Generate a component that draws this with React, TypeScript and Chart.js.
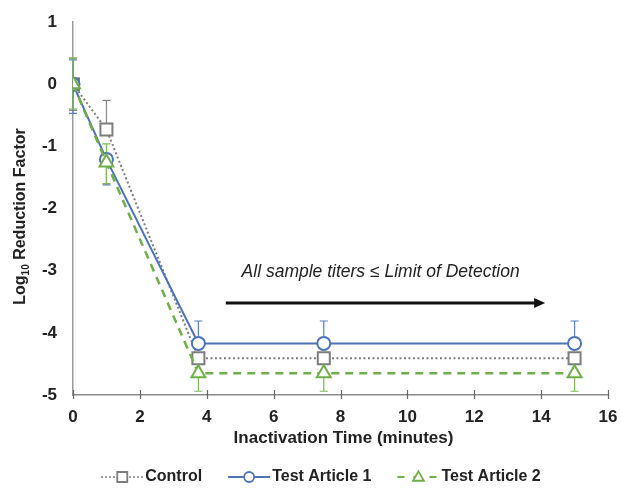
import React, { useEffect, useRef } from "react";
import { Chart, registerables } from "chart.js";

Chart.register(...registerables);

const times = [0, 1, 3.75, 7.5, 15];
const controlVals = [0, -0.73, -4.41, -4.41, -4.41];
const ta1Vals = [0, -1.21, -4.17, -4.17, -4.17];
const ta2Vals = [0, -1.26, -4.65, -4.65, -4.65];
const controlErrUp = [0.42, 0.47, 0, 0, 0];
const controlErrDown = [0.42, 0, 0, 0, 0];
const ta1ErrUp = [0.39, 0, 0.36, 0.36, 0.36];
const ta1ErrDown = [0.47, 0.41, 0, 0, 0];
const ta2ErrUp = [0.42, 0.3, 0, 0, 0];
const ta2ErrDown = [0.4, 0.34, 0.29, 0.29, 0.29];
const seriesNames = ["Control", "Test Article 1", "Test Article 2"];
const xTicks = [0, 2, 4, 6, 8, 10, 12, 14, 16];
const xTitle = "Inactivation Time (minutes)";
const annotationText = "All sample titers \u2264 Limit of Detection";
const arrowStart = 4.57;
const arrowEnd = 14.12;
const arrowY = -3.52;
const annotX = 9.2;
const annotY = -3.03;

const GRAY = "#7d7d7d";
const BLUE = "#4d72b8";
const GREEN = "#6fae49";
const FONT = "'Liberation Sans', Arial, sans-serif";

const errorSets = [
  { up: controlErrUp, down: controlErrDown, vals: controlVals, color: "#8a8a8a" },
  { up: ta1ErrUp, down: ta1ErrDown, vals: ta1Vals, color: "#5b7fc0" },
  { up: ta2ErrUp, down: ta2ErrDown, vals: ta2Vals, color: "#7db85a" },
];

const errorBarPlugin = {
  id: "errorBars",
  beforeDatasetsDraw(chart: any) {
    const { ctx, scales } = chart;
    const xs = scales.x;
    const ys = scales.y;
    ctx.save();
    ctx.lineWidth = 1.2;
    errorSets.forEach((s) => {
      ctx.strokeStyle = s.color;
      times.forEach((t, i) => {
        const px = xs.getPixelForValue(t);
        const py = ys.getPixelForValue(s.vals[i]);
        const draw = (val: number) => {
          const ey = ys.getPixelForValue(val);
          ctx.beginPath();
          ctx.moveTo(px, py);
          ctx.lineTo(px, ey);
          ctx.moveTo(px - 4, ey);
          ctx.lineTo(px + 4, ey);
          ctx.stroke();
        };
        if (s.up[i] > 0) draw(s.vals[i] + s.up[i]);
        if (s.down[i] > 0) draw(s.vals[i] - s.down[i]);
      });
    });
    ctx.restore();
  },
};

function drawMarker(ctx: any, style: string, x: number, y: number, r: number, color: string) {
  ctx.save();
  ctx.fillStyle = "#fff";
  ctx.strokeStyle = color;
  ctx.lineWidth = 1.8;
  ctx.setLineDash([]);
  ctx.beginPath();
  if (style === "rect") {
    ctx.rect(x - r, y - r, 2 * r, 2 * r);
  } else if (style === "circle") {
    ctx.arc(x, y, r, 0, Math.PI * 2);
  } else {
    const h = r * 1.7;
    ctx.moveTo(x, y - h * 0.6);
    ctx.lineTo(x + r, y + h * 0.4);
    ctx.lineTo(x - r, y + h * 0.4);
    ctx.closePath();
  }
  ctx.fill();
  ctx.stroke();
  ctx.restore();
}

const decorPlugin = {
  id: "decor",
  afterDraw(chart: any) {
    const { ctx, scales, chartArea } = chart;
    const xs = scales.x;
    const ys = scales.y;
    ctx.save();
    // x-axis tick marks crossing the axis
    ctx.strokeStyle = "#666";
    ctx.lineWidth = 1.2;
    xTicks.forEach((t) => {
      const px = Math.round(xs.getPixelForValue(t)) + 0.5;
      ctx.beginPath();
      ctx.moveTo(px, chartArea.bottom - 5);
      ctx.lineTo(px, chartArea.bottom + 4);
      ctx.stroke();
    });
    // arrow
    const ax0 = xs.getPixelForValue(arrowStart);
    const ax1 = xs.getPixelForValue(arrowEnd);
    const ay = ys.getPixelForValue(arrowY);
    ctx.strokeStyle = "#111";
    ctx.fillStyle = "#111";
    ctx.lineWidth = 3;
    ctx.beginPath();
    ctx.moveTo(ax0, ay);
    ctx.lineTo(ax1 - 8, ay);
    ctx.stroke();
    ctx.beginPath();
    ctx.moveTo(ax1, ay);
    ctx.lineTo(ax1 - 11, ay - 5);
    ctx.lineTo(ax1 - 11, ay + 5);
    ctx.closePath();
    ctx.fill();
    // annotation text
    ctx.font = `italic 17.5px ${FONT}`;
    ctx.fillStyle = "#222";
    ctx.textAlign = "center";
    ctx.textBaseline = "middle";
    ctx.fillText(annotationText, xs.getPixelForValue(annotX), ys.getPixelForValue(annotY));
    // x title
    ctx.font = `bold 17px ${FONT}`;
    ctx.fillText(xTitle, (chartArea.left + chartArea.right) / 2 + 3, chartArea.bottom + 43);
    // y title with subscript
    ctx.save();
    ctx.translate(21, (chartArea.top + chartArea.bottom) / 2 + 8);
    ctx.rotate(-Math.PI / 2);
    const p1 = "Log";
    const sub = "10";
    const p2 = " Reduction Factor";
    ctx.font = `bold 16px ${FONT}`;
    const w1 = ctx.measureText(p1).width;
    const w3 = ctx.measureText(p2).width;
    ctx.font = `bold 10px ${FONT}`;
    const w2 = ctx.measureText(sub).width;
    const total = w1 + w2 + w3;
    let cx = -total / 2;
    ctx.textAlign = "left";
    ctx.font = `bold 16px ${FONT}`;
    ctx.fillText(p1, cx, 0);
    cx += w1;
    ctx.font = `bold 10px ${FONT}`;
    ctx.fillText(sub, cx, 5);
    cx += w2;
    ctx.font = `bold 16px ${FONT}`;
    ctx.fillText(p2, cx, 0);
    ctx.restore();
    // legend
    const items = [
      { name: seriesNames[0], color: GRAY, dash: [1.5, 2.5], style: "rect", r: 5 },
      { name: seriesNames[1], color: BLUE, dash: [], style: "circle", r: 5 },
      { name: seriesNames[2], color: GREEN, dash: [7, 9], style: "triangle", r: 5.5 },
    ];
    ctx.font = `bold 16px ${FONT}`;
    const segW = 42;
    const gap = 2;
    const itemGap = 26;
    const widths = items.map((it) => segW + gap + ctx.measureText(it.name).width);
    const totalW = widths.reduce((a, b) => a + b, 0) + itemGap * (items.length - 1);
    let lx = 321 - totalW / 2;
    const ly = 477;
    items.forEach((it, i) => {
      ctx.save();
      ctx.strokeStyle = it.color;
      ctx.lineWidth = 1.8;
      ctx.setLineDash(it.dash);
      ctx.beginPath();
      ctx.moveTo(lx, ly);
      ctx.lineTo(lx + segW, ly);
      ctx.stroke();
      ctx.restore();
      drawMarker(ctx, it.style, lx + segW / 2, ly, it.r, it.color);
      ctx.fillStyle = "#222";
      ctx.textAlign = "left";
      ctx.textBaseline = "middle";
      ctx.font = `bold 16px ${FONT}`;
      ctx.fillText(it.name, lx + segW + gap, ly);
      lx += widths[i] + itemGap;
    });
    ctx.restore();
  },
};

export default function App() {
  const ref = useRef<HTMLCanvasElement | null>(null);
  useEffect(() => {
    if (!ref.current) return;
    const mk = (vals: number[]) => times.map((t, i) => ({ x: t, y: vals[i] }));
    const chart = new Chart(ref.current, {
      type: "line",
      data: {
        datasets: [
          {
            label: seriesNames[0],
            data: mk(controlVals),
            borderColor: GRAY,
            backgroundColor: "#fff",
            borderWidth: 2,
            borderDash: [2, 2.5],
            pointStyle: "rect",
            pointRadius: 8.5,
            pointBorderWidth: 2,
            pointBorderColor: GRAY,
            pointBackgroundColor: "#fff",
            order: 3,
          },
          {
            label: seriesNames[1],
            data: mk(ta1Vals),
            borderColor: BLUE,
            backgroundColor: "#fff",
            borderWidth: 2,
            pointStyle: "circle",
            pointRadius: 6.5,
            pointBorderWidth: 2,
            pointBorderColor: BLUE,
            pointBackgroundColor: "#fff",
            order: 2,
          },
          {
            label: seriesNames[2],
            data: mk(ta2Vals),
            borderColor: GREEN,
            backgroundColor: "#fff",
            borderWidth: 2.5,
            borderDash: [8, 6],
            pointStyle: "triangle",
            pointRadius: 8,
            pointBorderWidth: 2,
            pointBorderColor: GREEN,
            pointBackgroundColor: "#fff",
            order: 1,
          },
        ],
      },
      options: {
        responsive: false,
        animation: false,
        events: [],
        layout: { padding: { top: 22, right: 13, left: 0, bottom: 0 } },
        plugins: { legend: { display: false }, tooltip: { enabled: false } },
        scales: {
          x: {
            type: "linear",
            min: 0,
            max: 16,
            afterFit: (s: any) => {
              s.height = 97;
              s.paddingLeft = 0;
              s.paddingRight = 0;
            },
            afterBuildTicks: (s: any) => {
              s.ticks = xTicks.map((v) => ({ value: v }));
            },
            grid: { display: false, drawTicks: false },
            border: { display: true, color: "#8a8a8a", width: 1.5 },
            ticks: {
              padding: 12,
              color: "#222",
              font: { family: FONT, size: 17, weight: "bold" },
            },
          },
          y: {
            type: "linear",
            min: -5,
            max: 1,
            afterFit: (s: any) => {
              s.width = 73;
              s.paddingTop = 0;
              s.paddingBottom = 0;
            },
            grid: { display: false, drawTicks: false },
            border: { display: true, color: "#9a9a9a", width: 1.5 },
            ticks: {
              stepSize: 1,
              padding: 16,
              color: "#222",
              font: { family: FONT, size: 17, weight: "bold" },
            },
          },
        },
      },
      plugins: [errorBarPlugin, decorPlugin],
    } as any);
    return () => chart.destroy();
  }, []);
  return (
    <div style={{ position: "absolute", left: 0, top: 0, width: 621, height: 492, background: "#fff" }}>
      <canvas ref={ref} width={621} height={492} style={{ display: "block" }} />
    </div>
  );
}
